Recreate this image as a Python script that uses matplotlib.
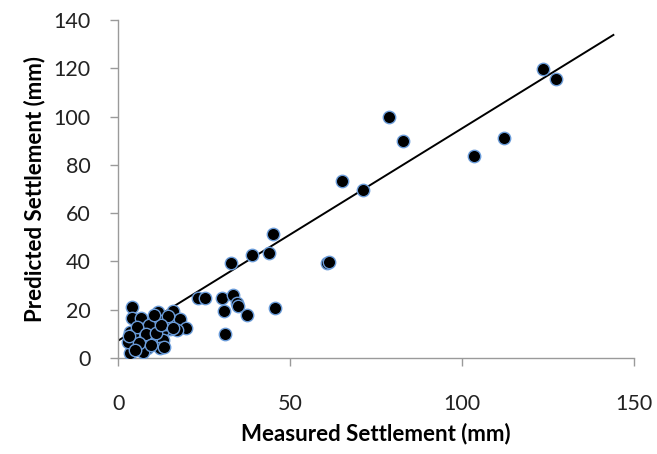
import matplotlib.pyplot as plt
import numpy as np

# measured vs predicted settlement (mm)
measured = [4.0, 4.0, 6.5, 11.6, 15.8, 10.0, 12.1, 16.5, 17.9, 19.7,
            17.0, 15.0, 13.1, 10.0, 7.2, 3.4, 4.3, 7.7, 11.1, 13.1,
            4.3, 8.4, 12.1, 13.3, 3.4, 7.2, 9.0, 5.5, 14.0, 8.0,
            2.9, 6.0, 11.0, 9.5, 14.5, 5.0, 12.5, 16.0, 3.0, 10.5,
            23.2, 25.2, 30.2, 33.4, 30.8, 34.5, 34.8, 37.5, 45.6, 31.0,
            32.8, 38.9, 43.9, 45.0, 60.8, 61.4, 65.2, 71.3, 78.6, 82.7,
            103.6, 112.1, 123.5, 127.3]
predicted = [21.0, 16.4, 16.4, 19.2, 19.6, 15.5, 15.5, 15.5, 16.0, 12.4,
             11.6, 11.9, 11.6, 11.9, 11.9, 10.9, 9.5, 8.2, 8.2, 7.5,
             5.4, 4.0, 4.0, 4.7, 1.9, 2.6, 13.5, 13.0, 14.0, 10.0,
             6.5, 6.0, 10.5, 5.5, 17.5, 3.5, 13.5, 12.5, 9.0, 18.0,
             24.9, 24.9, 24.9, 26.1, 19.5, 22.8, 21.5, 17.8, 20.7, 9.9,
             39.4, 42.7, 43.5, 51.4, 39.4, 39.8, 73.3, 69.6, 99.8, 89.9,
             83.7, 91.1, 119.7, 115.6]

# fitted line end points
line_x = [0, 144]
line_y = [7.2, 133.8]

plt.rcParams['font.family'] = ['Lato', 'DejaVu Sans']
fig = plt.figure(figsize=(6.57, 4.54), dpi=100)
ax = fig.add_axes([0.180, 0.2115, 0.785, 0.7445])

ax.scatter(measured, predicted, s=80, facecolor='black', edgecolor='#6a9bd8',
           linewidth=1.0, zorder=3)
ax.plot(line_x, line_y, color='black', linewidth=1.4, zorder=2)

ax.set_xlim(0, 150)
ax.set_ylim(0, 140)
ax.set_xticks([0, 50, 100, 150])
ax.set_yticks(np.arange(0, 141, 20))

for s in ['top', 'right']:
    ax.spines[s].set_visible(False)
for s in ['left', 'bottom']:
    ax.spines[s].set_color('#9a9a9a')
    ax.spines[s].set_linewidth(1.0)
ax.tick_params(direction='out', length=6, width=1.0, color='#9a9a9a',
               labelsize=15.5, labelcolor='#222222')
ax.tick_params(axis='x', pad=20)
ax.tick_params(axis='y', pad=14)

ax.set_xlabel('Measured Settlement (mm)', fontsize=16, fontweight='bold',
              labelpad=6)
ax.set_ylabel('Predicted Settlement (mm)', fontsize=16, fontweight='bold',
              labelpad=6)

fig.savefig('out.png', dpi=100)
